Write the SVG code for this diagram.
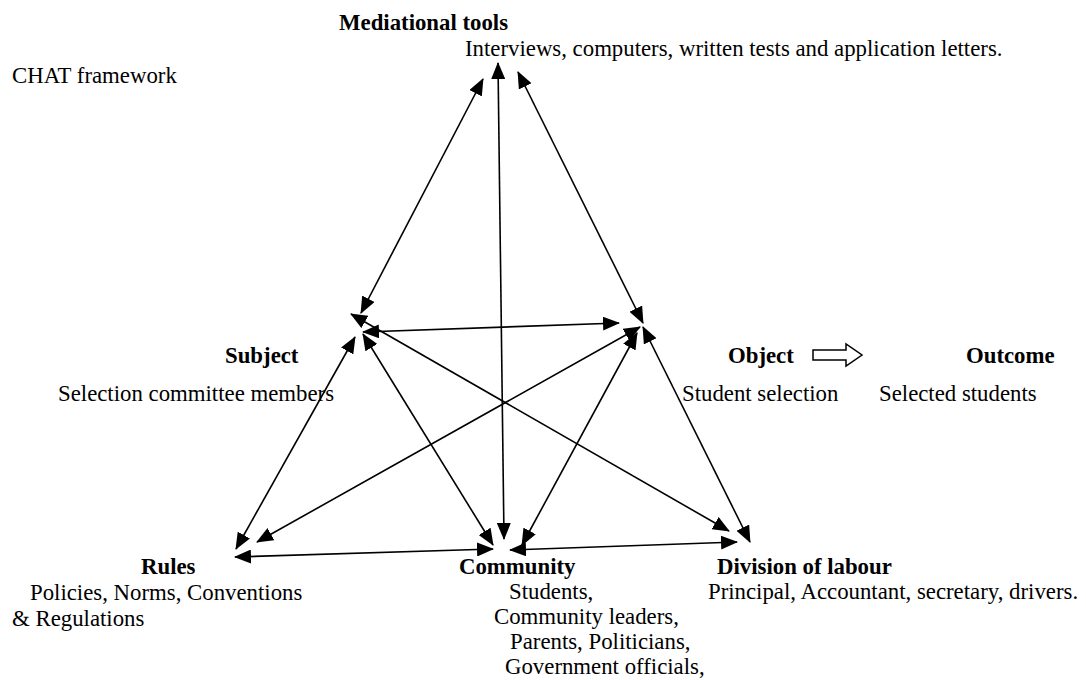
<svg xmlns="http://www.w3.org/2000/svg" width="1086" height="680" viewBox="0 0 1086 680">
<style>
text{font-family:"Liberation Serif","Times New Roman",serif;font-size:22.8px;fill:#000}
.b{font-weight:bold}
.c line{stroke:#000;stroke-width:1.6;marker-start:url(#ah);marker-end:url(#ah)}
</style>
<defs>
<marker id="ah" markerUnits="userSpaceOnUse" markerWidth="18" markerHeight="14" refX="16" refY="7" orient="auto-start-reverse">
<path d="M0,0 L17,7 L0,14 z" fill="#000"/>
</marker>
</defs>
<rect width="1086" height="680" fill="#fff"/>
<text x="12" y="83">CHAT framework</text>
<g id="tools">
<text class="b" x="339" y="30">Mediational tools</text>
<text x="465" y="56">Interviews, computers, written tests and application letters.</text>
</g>
<g id="subject">
<text class="b" x="225" y="363">Subject</text>
<text x="58" y="401">Selection committee members</text>
</g>
<g id="object">
<text class="b" x="728" y="363">Object</text>
<text x="682" y="401">Student selection</text>
</g>
<g id="outcome">
<text class="b" x="966" y="363">Outcome</text>
<text x="879" y="401">Selected students</text>
</g>
<g id="rules">
<text class="b" x="141" y="574">Rules</text>
<text x="30" y="600">Policies, Norms, Conventions</text>
<text x="12" y="626">&amp; Regulations</text>
</g>
<g id="community">
<text class="b" x="459" y="574">Community</text>
<text x="509" y="599">Students,</text>
<text x="494" y="624">Community leaders,</text>
<text x="510" y="649">Parents, Politicians,</text>
<text x="505" y="674">Government officials,</text>
</g>
<g id="division">
<text class="b" x="717" y="574">Division of labour</text>
<text x="708" y="599">Principal, Accountant, secretary, drivers.</text>
</g>
<g id="connectors" class="c">
<line x1="483" y1="79" x2="361" y2="313"/>
<line x1="498" y1="63" x2="504" y2="539"/>
<line x1="518" y1="72" x2="643" y2="323"/>
<line x1="363" y1="332" x2="619" y2="323"/>
<line x1="351" y1="314" x2="729" y2="531"/>
<line x1="363" y1="334" x2="493" y2="545"/>
<line x1="355" y1="337" x2="236" y2="549"/>
<line x1="257" y1="542" x2="640" y2="327"/>
<line x1="235" y1="557" x2="493" y2="549"/>
<line x1="522" y1="545" x2="637" y2="333"/>
<line x1="510" y1="550" x2="737" y2="542"/>
<line x1="643" y1="327" x2="750" y2="542"/>
</g>
<path id="outcome-arrow" d="M813,350 H846 V344 L862,355 L846,366 V360 H813 Z" fill="#fff" stroke="#000" stroke-width="1.5"/>
</svg>
